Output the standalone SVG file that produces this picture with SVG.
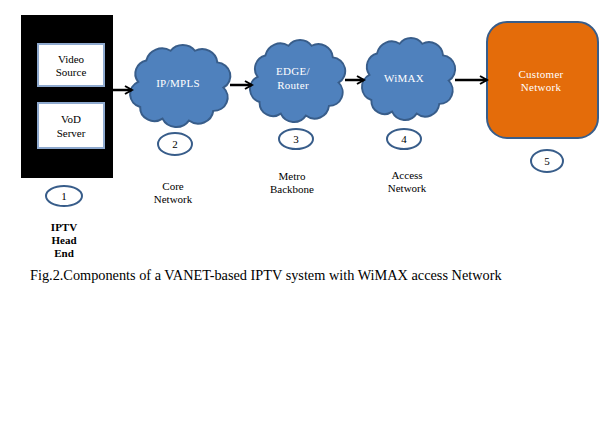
<svg xmlns="http://www.w3.org/2000/svg" xmlns:xlink="http://www.w3.org/1999/xlink" width="607" height="421" viewBox="0 0 607 421">
<style>
  .t { font-family: "Liberation Serif", "Times New Roman", serif; font-size: 11px; fill: #000; text-anchor: middle; }
  .w { font-family: "Liberation Serif", "Times New Roman", serif; font-size: 11px; fill: #fff; text-anchor: middle; letter-spacing: 0.3px; }
  .b { font-weight: bold; }
  .num { fill: #fff; stroke: #385D8A; stroke-width: 2; }
  .cloud { fill: #4F81BD; stroke: #385D8A; stroke-width: 2; }
  .conn { stroke: #000; stroke-width: 2.5; fill: none; marker-end: url(#arr); }
  .inbox { fill: #fff; stroke: #8EA9CE; stroke-width: 2; }
</style>
<defs>
  <marker id="arr" viewBox="0 0 10 10" refX="8" refY="5" markerWidth="4" markerHeight="4" orient="auto" markerUnits="strokeWidth">
    <path d="M1,1 L8,5 L1,9" fill="none" stroke="#000" stroke-width="2"/>
  </marker>
  <path id="cloudp" d="M10,40 A14,14 0 0 1 18,18 A16,16 0 0 1 42,8 A15,15 0 0 1 66,8 A15,15 0 0 1 88,20 A14,14 0 0 1 94,46 A14,14 0 0 1 84,70 A15,15 0 0 1 60,80 A15,15 0 0 1 34,78 A14,14 0 0 1 12,66 A14,14 0 0 1 10,40 Z"/>
</defs>
<rect width="607" height="421" fill="#fff"/>

<g id="headend">
  <rect x="21" y="15" width="92" height="163" fill="#000"/>
  <rect class="inbox" x="38" y="44" width="66" height="42"/>
  <text class="t" x="71" y="63">Video</text>
  <text class="t" x="71" y="76">Source</text>
  <rect class="inbox" x="38" y="103" width="66" height="45"/>
  <text class="t" x="71" y="123">VoD</text>
  <text class="t" x="71" y="137">Server</text>
  <ellipse class="num" cx="64" cy="196" rx="18" ry="10"/>
  <text class="t" x="64" y="200">1</text>
  <text class="t b" x="64" y="231">IPTV</text>
  <text class="t b" x="64" y="244">Head</text>
  <text class="t b" x="64" y="257">End</text>
</g>

<g id="core">
  <use xlink:href="#cloudp" class="cloud" transform="translate(128,43) scale(1.015,0.97)"/>
  <text class="w" x="178" y="87">IP/MPLS</text>
  <ellipse class="num" cx="175" cy="144" rx="17" ry="11"/>
  <text class="t" x="175" y="148">2</text>
  <text class="t" x="173" y="190">Core</text>
  <text class="t" x="173" y="203">Network</text>
</g>

<g id="metro">
  <use xlink:href="#cloudp" class="cloud" transform="translate(248,38) scale(0.964,0.97)"/>
  <text class="w" x="293" y="75">EDGE/</text>
  <text class="w" x="293" y="89">Router</text>
  <ellipse class="num" cx="296" cy="139" rx="17" ry="10"/>
  <text class="t" x="296" y="143">3</text>
  <text class="t" x="292" y="180">Metro</text>
  <text class="t" x="292" y="193">Backbone</text>
</g>

<g id="access">
  <use xlink:href="#cloudp" class="cloud" transform="translate(360,36) scale(0.944,0.97)"/>
  <text class="w" x="404" y="82">WiMAX</text>
  <ellipse class="num" cx="404" cy="139" rx="17" ry="10"/>
  <text class="t" x="404" y="143">4</text>
  <text class="t" x="407" y="179">Access</text>
  <text class="t" x="407" y="192">Network</text>
</g>

<g id="customer">
  <rect x="487" y="22" width="111" height="116" rx="20" ry="20" fill="#E46C0A" stroke="#385D8A" stroke-width="2"/>
  <text class="w" x="541" y="78">Customer</text>
  <text class="w" x="541" y="91">Network</text>
  <ellipse class="num" cx="547" cy="161" rx="16" ry="11"/>
  <text class="t" x="547" y="165">5</text>
</g>

<g id="connectors">
  <line class="conn" x1="113" y1="90" x2="132" y2="90"/>
  <line class="conn" x1="230" y1="85" x2="252" y2="85"/>
  <line class="conn" x1="345" y1="80" x2="364" y2="80"/>
  <line class="conn" x1="455" y1="80" x2="487" y2="80"/>
</g>

<text x="30" y="280" font-family="'Liberation Serif', 'Times New Roman', serif" font-size="14.3" fill="#000">Fig.2.Components of a VANET-based IPTV system with WiMAX access Network</text>
</svg>
